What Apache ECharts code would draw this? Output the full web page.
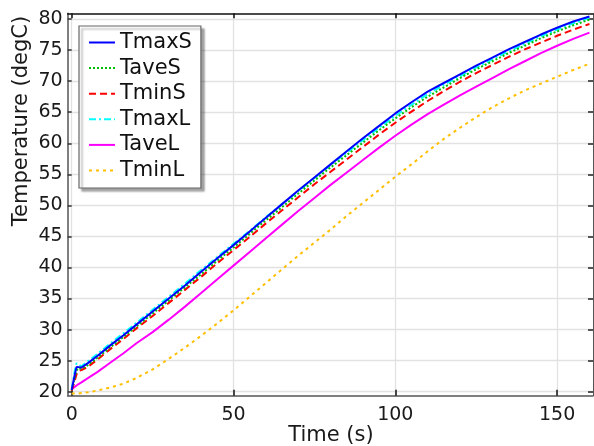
<!DOCTYPE html>
<html>
<head>
<meta charset="utf-8">
<script src="https://cdn.jsdelivr.net/npm/echarts@6/dist/echarts.min.js"></script>
<style>
html,body{margin:0;padding:0;background:#fff;}
#c{width:594px;height:446px;}
</style>
</head>
<body>
<div id="c"></div>
<script>
var time = [0,0.5,1,1.5,2,3,5,8,12,16,20,25,30,35,40,45,50,55,60,65,70,75,80,85,90,95,100,105,110,115,120,125,130,135,140,145,150,155,160];
var TmaxS = [20.3,21.6,22.9,24.0,24.2,23.9,24.6,25.8,27.5,29.1,30.8,32.9,35.0,37.1,39.3,41.5,43.6,45.8,48.0,50.2,52.4,54.5,56.6,58.7,60.8,62.8,64.8,66.6,68.3,69.7,71.1,72.5,73.8,75.1,76.3,77.5,78.6,79.6,80.4];
var TaveS = [20.3,21.3,22.4,23.4,23.8,23.7,24.3,25.5,27.2,28.8,30.5,32.6,34.7,36.8,38.9,41.1,43.2,45.4,47.6,49.7,51.9,54.0,56.1,58.1,60.1,62.1,64.0,65.8,67.5,69.0,70.5,71.9,73.2,74.5,75.7,76.9,78.0,79.0,79.9];
var TminS = [20.2,21.0,21.9,22.8,23.3,23.5,24.0,25.2,26.9,28.5,30.2,32.2,34.3,36.4,38.5,40.7,42.8,44.9,47.1,49.2,51.3,53.4,55.4,57.4,59.4,61.4,63.3,65.1,66.8,68.4,69.9,71.3,72.6,73.9,75.1,76.2,77.3,78.3,79.2];
var TmaxL = [20.4,22.0,23.5,24.6,24.4,24.1,24.9,26.1,27.8,29.4,31.1,33.2,35.3,37.4,39.6,41.7,43.8,45.9,48.1,50.2,52.3,54.4,56.5,58.5,60.5,62.5,64.4,66.2,67.9,69.4,70.8,72.2,73.5,74.8,76.0,77.2,78.3,79.3,80.2];
var TaveL = [20.4,20.6,20.8,21.0,21.2,21.5,22.2,23.2,24.7,26.2,27.8,29.6,31.6,33.7,35.9,38.1,40.3,42.5,44.7,46.9,49.1,51.2,53.3,55.3,57.3,59.3,61.2,63.0,64.7,66.2,67.7,69.1,70.5,71.9,73.2,74.5,75.7,76.8,77.8];
var TminL = [19.7,19.7,19.7,19.7,19.7,19.8,19.9,20.2,20.7,21.3,22.2,23.6,25.3,27.1,29.0,31.0,33.1,35.3,37.5,39.7,41.9,44.0,46.1,48.3,50.4,52.5,54.6,56.6,58.7,60.7,62.5,64.2,65.8,67.2,68.5,69.6,70.7,71.8,72.8];

var seriesNames = ['TmaxS','TaveS','TminS','TmaxL','TaveL','TminL'];
var xTicks = [0,50,100,150];
var yTicks = [20,25,30,35,40,45,50,55,60,65,70,75,80];

function pairs(vals){ return time.map(function(t,i){ return [t, vals[i]]; }); }

var styles = [
  {color:'#0000ff', type:'solid'},
  {color:'#00c000', type:[2,2]},
  {color:'#ff0000', type:[7,4]},
  {color:'#00ffff', type:[7,3,2,3]},
  {color:'#ff00ff', type:'solid'},
  {color:'#ffbf00', type:[3,4]}
];
var dataSets = [TmaxS,TaveS,TminS,TmaxL,TaveL,TminL];

var FONT = 'DejaVu Sans';
var chart = echarts.init(document.getElementById('c'), null, {renderer:'canvas'});
chart.setOption({
  animation:false,
  backgroundColor:'#fff',
  grid:{left:67.7, right:1, top:13.3, bottom:50.3, show:false},
  xAxis:[{
    type:'value', min:-1.24, max:161.1, position:'bottom',
    axisLine:{show:true, onZero:false, lineStyle:{color:'#555', width:1.5}},
    axisTick:{show:true, inside:true, length:6, customValues:xTicks, lineStyle:{color:'#111', width:1.5}},
    axisLabel:{customValues:xTicks, fontSize:19, fontFamily:FONT, color:'#1a1a1a', margin:10},
    splitLine:{show:true, lineStyle:{color:'#e2e2e2', width:1.3}}
  },{
    type:'value', min:-1.24, max:161.1, position:'top',
    axisLine:{show:true, onZero:false, lineStyle:{color:'#111', width:1.5}},
    axisTick:{show:true, inside:true, length:5, customValues:xTicks, lineStyle:{color:'#111', width:1.5}},
    axisLabel:{show:false},
    splitLine:{show:false}
  }],
  yAxis:[{
    type:'value', min:19.36, max:80.92, position:'left',
    axisLine:{show:true, onZero:false, lineStyle:{color:'#555', width:1.5}},
    axisTick:{show:true, inside:true, length:4, customValues:yTicks, lineStyle:{color:'#333', width:1.5}},
    axisLabel:{customValues:yTicks, fontSize:19, fontFamily:FONT, color:'#1a1a1a', margin:5},
    splitLine:{show:true, lineStyle:{color:'#e2e2e2', width:1.3}}
  },{
    type:'value', min:19.36, max:80.92, position:'right',
    axisLine:{show:true, onZero:false, lineStyle:{color:'#555', width:1}},
    axisTick:{show:true, inside:true, length:5, customValues:yTicks, lineStyle:{color:'#555', width:2}},
    axisLabel:{show:false},
    splitLine:{show:false}
  }],
  legend:{
    orient:'vertical', left:79, top:26,
    data:seriesNames,
    itemWidth:26, itemHeight:14, itemGap:4.6,
    padding:[6,9,7,9],
    backgroundColor:'#fff', borderColor:'#666', borderWidth:1.2, borderRadius:0,
    shadowColor:'rgba(0,0,0,0.35)', shadowOffsetX:3, shadowOffsetY:3, shadowBlur:2,
    itemStyle:{opacity:0},
    textStyle:{fontSize:21, fontFamily:FONT, color:'#111', lineHeight:21}
  },
  graphic:[
    {type:'text', x:331, y:436, style:{text:'Time (s)', font:'21px "DejaVu Sans"', fill:'#1a1a1a', textAlign:'center', textVerticalAlign:'middle'}},
    {type:'text', x:22, y:121, rotation:Math.PI/2, style:{text:'Temperature (degC)', font:'21px "DejaVu Sans"', fill:'#1a1a1a', textAlign:'center', textVerticalAlign:'middle'}}
  ],
  series: seriesNames.map(function(n,i){
    return {
      name:n, type:'line', xAxisIndex:0, yAxisIndex:0,
      data:pairs(dataSets[i]), showSymbol:false, symbol:'none', smooth:false,
      lineStyle:{color:styles[i].color, type:styles[i].type, width:2},
      itemStyle:{color:styles[i].color},
      z:10-i
    };
  })
});
</script>
</body>
</html>
